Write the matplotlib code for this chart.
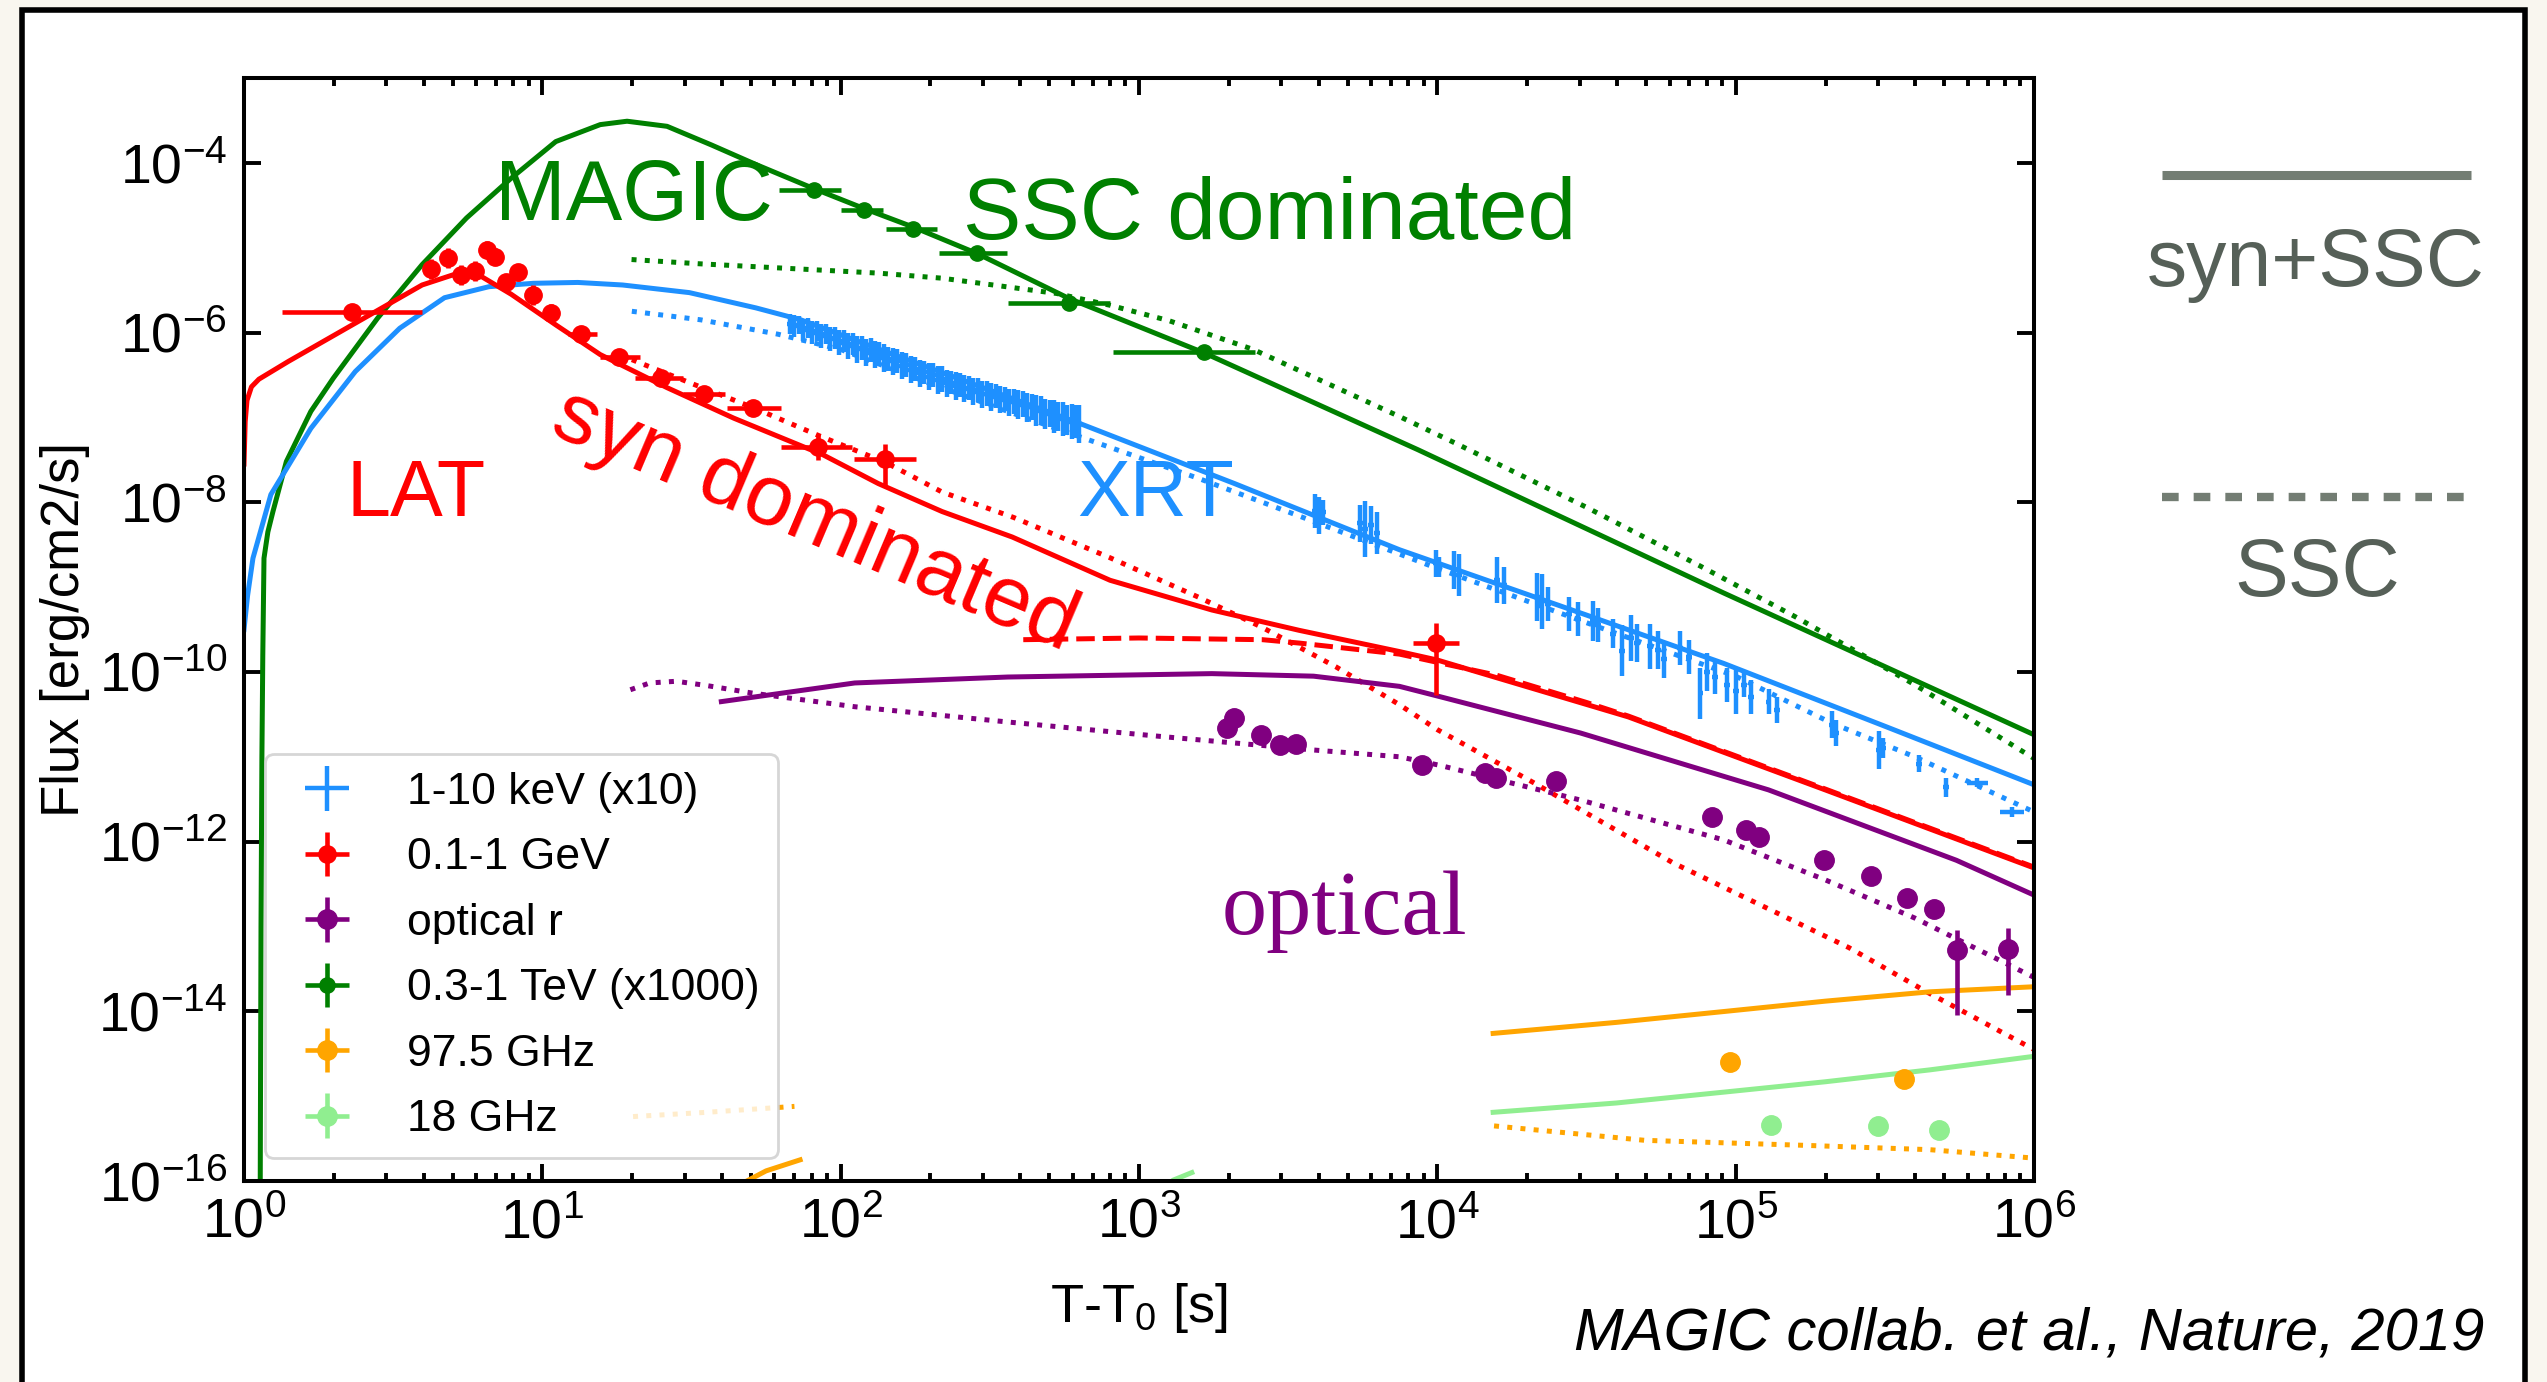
import numpy as np
import matplotlib.pyplot as plt
from matplotlib.lines import Line2D
from matplotlib.patches import Rectangle
from matplotlib.ticker import LogLocator, NullLocator

plt.rcParams['font.family'] = 'Liberation Sans'
plt.rcParams['mathtext.fontset'] = 'custom'
plt.rcParams['mathtext.rm'] = 'Liberation Sans'
plt.rcParams['mathtext.it'] = 'Liberation Sans:italic'
plt.rcParams['mathtext.bf'] = 'Liberation Sans:bold'
plt.rcParams['axes.unicode_minus'] = False

# ---------------- model curves (log10 t, log10 F) ----------------
tev_tot_lt = [0.054, 0.057, 0.060, 0.063, 0.067, 0.080, 0.097, 0.142, 0.224, 0.299, 0.448,
              0.597, 0.746, 0.896, 1.045, 1.194, 1.284, 1.418, 1.567, 1.716, 1.907, 2.079,
              2.245, 2.458, 2.766, 3.218, 3.934, 4.960, 6.0]
tev_tot_lf = [-16.5, -13.0, -11.0, -9.8, -8.66, -8.35, -8.11, -7.52, -6.93, -6.54, -5.83,
              -5.20, -4.65, -4.18, -3.75, -3.55, -3.51, -3.57, -3.79, -4.02, -4.30, -4.54,
              -4.76, -5.07, -5.60, -6.24, -7.38, -9.07, -10.74]
tev_ssc_lt = [1.299, 1.526, 1.80, 2.126, 2.34, 2.575, 2.724, 2.904, 3.10, 3.383, 3.60,
              3.873, 4.058, 4.50, 4.88, 5.20, 5.60, 6.0]
tev_ssc_lf = [-5.14, -5.19, -5.24, -5.30, -5.36, -5.47, -5.54, -5.68, -5.86, -6.20, -6.55,
              -6.99, -7.30, -8.06, -8.75, -9.35, -10.15, -11.02]

xrt_tot_lt = [0.0, 0.012, 0.03, 0.09, 0.224, 0.373, 0.522, 0.672, 0.821, 0.970, 1.119,
              1.269, 1.493, 1.716, 1.866, 2.20, 2.80, 3.32, 3.873, 4.50, 4.96, 5.50, 6.0]
xrt_tot_lf = [-9.5, -9.1, -8.66, -7.91, -7.13, -6.46, -5.95, -5.59, -5.46, -5.42, -5.41,
              -5.44, -5.53, -5.71, -5.85, -6.29, -7.07, -7.78, -8.56, -9.33, -9.90, -10.64, -11.33]
xrt_ssc_lt = [1.30, 1.53, 1.79, 2.0, 2.3, 2.6, 2.9, 3.2, 3.55, 4.0, 4.5, 5.0, 5.32, 5.6, 6.0]
xrt_ssc_lf = [-5.75, -5.85, -6.02, -6.20, -6.60, -6.98, -7.35, -7.72, -8.18, -8.78, -9.42,
              -10.05, -10.60, -11.0, -11.65]

lat_tot_lt = [0.0, 0.004, 0.01, 0.025, 0.05, 0.149, 0.373, 0.597, 0.701, 0.791, 0.896,
              1.045, 1.194, 1.418, 1.642, 1.94, 2.126, 2.34, 2.575, 2.903, 3.244, 3.537,
              3.873, 4.0, 4.64, 5.3, 6.0]
lat_tot_lf = [-7.55, -7.05, -6.80, -6.64, -6.55, -6.34, -5.89, -5.44, -5.32, -5.33, -5.55,
              -5.91, -6.26, -6.65, -7.01, -7.44, -7.78, -8.11, -8.41, -8.92, -9.27, -9.51,
              -9.76, -9.86, -10.53, -11.39, -12.31]
lat_ssc_lt = [2.612, 3.0, 3.414, 3.537, 3.873, 4.2, 4.5, 4.64, 5.3, 6.0]
lat_ssc_lf = [-9.62, -9.60, -9.62, -9.66, -9.79, -10.04, -10.36, -10.52, -11.38, -12.30]
lat_syn_lt = [1.30, 1.50, 1.71, 1.93, 2.15, 2.34, 2.58, 2.90, 3.20, 3.41, 3.66, 3.87,
              4.0, 4.32, 4.79, 5.38, 5.64, 6.0]
lat_syn_lf = [-6.32, -6.60, -6.89, -7.22, -7.53, -7.88, -8.18, -8.65, -9.12, -9.47, -9.94,
              -10.38, -10.68, -11.30, -12.25, -13.25, -13.77, -14.45]

opt_tot_lt = [1.60, 2.047, 2.56, 3.244, 3.585, 3.873, 4.007, 4.48, 5.11, 5.74, 6.0]
opt_tot_lf = [-10.35, -10.13, -10.06, -10.02, -10.05, -10.17, -10.29, -10.72, -11.39, -12.22, -12.63]
opt_ssc_lt = [1.295, 1.36, 1.449, 1.55, 1.705, 2.047, 2.56, 3.072, 3.585, 3.873, 4.007,
              4.48, 4.96, 5.3, 5.6, 6.0]
opt_ssc_lf = [-10.21, -10.13, -10.11, -10.16, -10.25, -10.41, -10.59, -10.76, -10.92, -11.0,
              -11.10, -11.51, -11.98, -12.45, -12.90, -13.60]

r97_tot_a_lt = [1.658, 1.75, 1.864]
r97_tot_a_lf = [-16.05, -15.88, -15.75]
r97_tot_b_lt = [4.187, 4.6, 4.966, 5.3, 5.65, 6.0]
r97_tot_b_lf = [-14.26, -14.13, -14.0, -13.88, -13.77, -13.71]
r97_ssc_a_lt = [1.304, 1.55, 1.845]
r97_ssc_a_lf = [-15.24, -15.19, -15.12]
r97_ssc_b_lt = [4.19, 4.695, 5.24, 5.65, 6.0]
r97_ssc_b_lf = [-15.35, -15.52, -15.58, -15.63, -15.73]
r18_tot_a_lt = [3.08, 3.114, 3.177]
r18_tot_a_lf = [-16.2, -15.99, -15.90]
r18_tot_b_lt = [4.187, 4.6, 4.966, 5.3, 5.65, 6.0]
r18_tot_b_lf = [-15.19, -15.08, -14.95, -14.83, -14.69, -14.53]

# ---------------- data points ----------------
lat_t = [2.3, 4.24, 4.81, 5.33, 5.95, 6.51, 6.92, 7.55, 8.28, 9.33, 10.7,
         13.5, 18.1, 24.9, 34.8, 50.8, 84.2, 141, 9900]
lat_tlo = [1.34, 4.24, 4.81, 5.33, 5.95, 6.51, 6.92, 7.55, 8.28, 9.33, 10.7,
           12.2, 15.6, 20.5, 29.5, 41.6, 62.9, 110.8, 8300]
lat_thi = [3.95, 4.24, 4.81, 5.33, 5.95, 6.51, 6.92, 7.55, 8.28, 9.33, 10.7,
           15.3, 21.2, 29.5, 40.9, 62.9, 108.9, 179.5, 11800]
lat_f = [1.75e-6, 5.6e-6, 7.5e-6, 4.8e-6, 5.3e-6, 9.4e-6, 7.8e-6, 3.9e-6, 5.1e-6, 2.76e-6,
         1.7e-6, 9.7e-7, 5.2e-7, 2.9e-7, 1.9e-7, 1.3e-7, 4.5e-8, 3.25e-8, 2.2e-10]
lat_up = [0.07, 0.12, 0.12, 0.12, 0.12, 0.10, 0.10, 0.10, 0.10, 0.12, 0.10,
          0.06, 0.06, 0.06, 0.06, 0.06, 0.15, 0.18, 0.24]
lat_dn = [0.07, 0.12, 0.12, 0.12, 0.12, 0.10, 0.10, 0.10, 0.10, 0.12, 0.10,
          0.06, 0.06, 0.06, 0.06, 0.06, 0.15, 0.31, 0.62]

magic_t = [81.5, 120, 175, 287, 583, 1650]
magic_tlo = [62, 100, 142, 213, 365, 815]
magic_thi = [100, 139, 210, 362, 800, 2450]
magic_f = [4.83e-5, 2.76e-5, 1.66e-5, 8.6e-6, 2.2e-6, 5.96e-7]
magic_err = [0.05, 0.05, 0.05, 0.05, 0.05, 0.06]

opt_lt = [3.295, 3.320, 3.410, 3.474, 3.526, 3.949, 4.160, 4.198, 4.397, 4.920, 5.035,
          5.077, 5.295, 5.452, 5.573, 5.665, 5.742, 5.913]
opt_lf = [-10.66, -10.54, -10.74, -10.86, -10.85, -11.10, -11.19, -11.25, -11.29, -11.71,
          -11.86, -11.95, -12.22, -12.41, -12.67, -12.79, -13.28, -13.26]
opt_up = [0] * 16 + [0.24, 0.24]
opt_dn = [0] * 16 + [0.76, 0.55]

r97_lt = [4.98, 5.564]
r97_lf = [-14.60, -14.80]
r18_lt = [5.12, 5.476, 5.68]
r18_lf = [-15.34, -15.35, -15.40]

# XRT light curve (log t, log F, half error in dex)
xrt_lt = [1.83, 1.845, 1.86, 1.875, 1.89, 1.905, 1.92, 1.935, 1.95, 1.965, 1.98, 1.995,
          2.01, 2.025, 2.04, 2.055, 2.07, 2.085, 2.10, 2.115, 2.13, 2.145, 2.16, 2.175,
          2.19, 2.205, 2.22, 2.235, 2.25, 2.265, 2.28, 2.295, 2.31, 2.325, 2.34, 2.355,
          2.37, 2.385, 2.40, 2.415, 2.43, 2.445, 2.46, 2.475, 2.49, 2.505, 2.52, 2.535,
          2.55, 2.565, 2.58, 2.595, 2.61, 2.625, 2.64, 2.655, 2.67, 2.685, 2.70, 2.715,
          2.73, 2.745, 2.76, 2.775, 2.79, 2.80,
          3.590, 3.603, 3.618, 3.740, 3.758, 3.777, 3.798, 3.995, 4.006, 4.055, 4.072,
          4.200, 4.222, 4.335, 4.352, 4.370, 4.440, 4.472, 4.522, 4.538, 4.590, 4.620,
          4.650, 4.670, 4.712, 4.738, 4.760, 4.812, 4.842, 4.882, 4.905, 4.932, 4.970,
          5.000, 5.028, 5.050, 5.110, 5.140, 5.322, 5.336, 5.480, 5.495, 5.615, 5.705,
          5.810, 5.925]
xrt_lf = [-5.90, -5.92, -5.91, -5.97, -5.95, -6.00, -5.98, -6.04, -6.02, -6.08, -6.06,
          -6.12, -6.10, -6.16, -6.14, -6.20, -6.18, -6.24, -6.21, -6.26, -6.25, -6.30,
          -6.31, -6.34, -6.34, -6.39, -6.38, -6.44, -6.43, -6.48, -6.47, -6.52, -6.50,
          -6.56, -6.55, -6.60, -6.59, -6.63, -6.62, -6.66, -6.65, -6.70, -6.68, -6.73,
          -6.72, -6.76, -6.75, -6.79, -6.78, -6.82, -6.81, -6.85, -6.84, -6.88, -6.88,
          -6.92, -6.91, -6.96, -6.95, -6.99, -6.99, -7.02, -7.03, -7.05, -7.05, -7.08,
          -8.10, -8.16, -8.12, -8.25, -8.32, -8.27, -8.36, -8.72, -8.76, -8.80, -8.86,
          -8.92, -8.98, -9.12, -9.17, -9.20, -9.32, -9.38, -9.40, -9.45, -9.55, -9.75,
          -9.60, -9.66, -9.70, -9.74, -9.85, -9.72, -9.82, -10.25, -10.00, -10.06, -10.15,
          -10.22, -10.15, -10.30, -10.35, -10.45, -10.62, -10.72, -10.92, -10.90, -11.08,
          -11.36, -11.305, -11.647]
xrt_err = [0.12, 0.13, 0.11, 0.13, 0.12, 0.13, 0.12, 0.14, 0.12, 0.14, 0.13, 0.15,
           0.13, 0.15, 0.13, 0.16, 0.14, 0.16, 0.14, 0.16, 0.14, 0.16, 0.14, 0.16,
           0.14, 0.16, 0.14, 0.16, 0.14, 0.16, 0.14, 0.16, 0.14, 0.16, 0.15, 0.16,
           0.14, 0.16, 0.14, 0.16, 0.14, 0.16, 0.14, 0.16, 0.15, 0.16, 0.14, 0.16,
           0.14, 0.16, 0.15, 0.17, 0.15, 0.17, 0.15, 0.18, 0.16, 0.18, 0.16, 0.19,
           0.17, 0.20, 0.18, 0.21, 0.19, 0.22,
           0.20, 0.22, 0.15, 0.22, 0.33, 0.22, 0.25, 0.16, 0.12, 0.22, 0.25,
           0.27, 0.22, 0.28, 0.32, 0.20, 0.20, 0.20, 0.24, 0.20, 0.17, 0.30,
           0.27, 0.22, 0.27, 0.22, 0.22, 0.20, 0.20, 0.30, 0.22, 0.20, 0.20,
           0.27, 0.15, 0.20, 0.15, 0.15, 0.16, 0.15, 0.22, 0.12, 0.10, 0.11,
           0.05, 0.06]
xrt_dx = [0.01] * 110 + [0.035, 0.040]


def lg(a):
    return 10.0 ** np.asarray(a, dtype=float)


def dex_err(f, up, dn):
    f = np.asarray(f, dtype=float)
    return [f * (1 - 10.0 ** -np.asarray(dn)), f * (10.0 ** np.asarray(up) - 1)]


fig = plt.figure(figsize=(25.47, 13.82), dpi=100, facecolor='#f9f6ef')
fig.add_artist(Rectangle((0.0086, -0.05), 0.9826, 1.0428, transform=fig.transFigure,
                         facecolor='white', edgecolor='black', lw=4, zorder=-10))
ax = fig.add_axes([0.0958, 0.1454, 0.7028, 0.7982])
ax.set_facecolor('white')

lw = 3.6
ax.plot(lg(tev_tot_lt), lg(tev_tot_lf), color='green', lw=lw)
ax.plot(lg(tev_ssc_lt), lg(tev_ssc_lf), color='green', lw=lw, ls=':')
ax.plot(lg(xrt_tot_lt), lg(xrt_tot_lf), color='dodgerblue', lw=lw)
ax.plot(lg(xrt_ssc_lt), lg(xrt_ssc_lf), color='dodgerblue', lw=lw, ls=':')
ax.plot(lg(lat_tot_lt), lg(lat_tot_lf), color='red', lw=lw)
ax.plot(lg(lat_ssc_lt), lg(lat_ssc_lf), color='red', lw=lw, ls='--')
ax.plot(lg(lat_syn_lt), lg(lat_syn_lf), color='red', lw=lw, ls=':')
ax.plot(lg(opt_tot_lt), lg(opt_tot_lf), color='purple', lw=lw)
ax.plot(lg(opt_ssc_lt), lg(opt_ssc_lf), color='purple', lw=lw, ls=':')
for lt_, lf_, st in [(r97_tot_a_lt, r97_tot_a_lf, '-'), (r97_tot_b_lt, r97_tot_b_lf, '-'),
                     (r97_ssc_a_lt, r97_ssc_a_lf, ':'), (r97_ssc_b_lt, r97_ssc_b_lf, ':')]:
    ax.plot(lg(lt_), lg(lf_), color='orange', lw=lw, ls=st)
for lt_, lf_ in [(r18_tot_a_lt, r18_tot_a_lf), (r18_tot_b_lt, r18_tot_b_lf)]:
    ax.plot(lg(lt_), lg(lf_), color='lightgreen', lw=lw)

# data
xt = lg(xrt_lt)
xf = lg(xrt_lf)
xdx = np.asarray(xrt_dx)
h_xrt = ax.errorbar(xt, xf, xerr=[xt * (1 - 10 ** -xdx), xt * (10 ** xdx - 1)],
                    yerr=dex_err(xf, xrt_err, xrt_err), fmt='none',
                    ecolor='dodgerblue', elinewidth=3.2, zorder=3)
lt = np.asarray(lat_t)
h_lat = ax.errorbar(lt, lat_f, xerr=[lt - np.asarray(lat_tlo), np.asarray(lat_thi) - lt],
                    yerr=dex_err(lat_f, lat_up, lat_dn), fmt='o', color='red', ms=12.5,
                    elinewidth=3.3, zorder=4)
ot = lg(opt_lt)
of = lg(opt_lf)
h_opt = ax.errorbar(ot, of, xerr=np.zeros(len(ot)), yerr=dex_err(of, opt_up, opt_dn),
                    fmt='o', color='purple', ms=14, elinewidth=3.3, zorder=4)
mt = np.asarray(magic_t, dtype=float)
h_mag = ax.errorbar(mt, magic_f, xerr=[mt - np.asarray(magic_tlo), np.asarray(magic_thi) - mt],
                    yerr=dex_err(magic_f, magic_err, magic_err), fmt='o', color='green',
                    ms=11, elinewidth=3.3, zorder=4)
h_r97 = ax.errorbar(lg(r97_lt), lg(r97_lf), xerr=np.zeros(2), yerr=np.zeros(2), fmt='o',
                    color='orange', ms=14, elinewidth=3.3, zorder=4)
h_r18 = ax.errorbar(lg(r18_lt), lg(r18_lf), xerr=np.zeros(3), yerr=np.zeros(3), fmt='o',
                    color='lightgreen', ms=14, elinewidth=3.3, zorder=4)

ax.set_xscale('log')
ax.set_yscale('log')
ax.set_xlim(1, 1e6)
ax.set_ylim(1e-16, 1e-3)
ax.set_yticks([10.0 ** k for k in range(-16, -3, 2)])
ax.yaxis.set_minor_locator(NullLocator())
ax.xaxis.set_major_locator(LogLocator(base=10, numticks=10))
ax.xaxis.set_minor_locator(LogLocator(base=10, subs=np.arange(2, 10), numticks=100))
ax.tick_params(which='both', direction='in', top=True, right=True, width=2.8)
ax.tick_params(which='major', length=12, pad=12, labelsize=40)
ax.tick_params(which='minor', length=6)
for s in ax.spines.values():
    s.set_linewidth(2.9)

# axis titles placed where the reference has them
fig.text(0.4472, 0.0434, 'T-T$_0$ [s]', fontsize=39, ha='center', va='baseline')
fig.text(0.0255, 0.5445, 'Flux [erg/cm2/s]', fontsize=38, rotation=90,
         ha='center', va='center')

leg = ax.legend([h_xrt, h_lat, h_opt, h_mag, h_r97, h_r18],
                ['1-10 keV (x10)', '0.1-1 GeV', 'optical r', '0.3-1 TeV (x1000)',
                 '97.5 GHz', '18 GHz'],
                loc='lower left', bbox_to_anchor=(0.0117, 0.0209), borderaxespad=0,
                fontsize=32, labelspacing=0.55, framealpha=0.8, edgecolor='0.8')
leg.get_frame().set_linewidth(2)

# annotations
ax.text(10 ** 0.84, 10 ** -4.67, 'MAGIC', color='green', fontsize=61, zorder=4)
ax.text(10 ** 2.41, 10 ** -4.90, 'SSC dominated', color='green', fontsize=63, zorder=4)
ax.text(10 ** 0.342, 10 ** -8.16, 'LAT', color='red', fontsize=57, zorder=4)
ax.text(10 ** 2.792, 10 ** -8.16, 'XRT', color='dodgerblue', fontsize=57, zorder=4)
ax.text(10 ** 1.911, 10 ** -8.227, 'syn dominated', color='red', fontsize=62,
        rotation=-23, rotation_mode='anchor', ha='center', va='center', zorder=4)
ax.text(10 ** 3.276, 10 ** -13.09, 'optical', color='purple', fontsize=65,
        family='Liberation Serif', zorder=4)

# side key and citation
fig.add_artist(Line2D([0.8487, 0.9700], [0.8731, 0.8731], transform=fig.transFigure,
                      color='#737d73', lw=6.5, solid_capstyle='butt'))
fig.add_artist(Line2D([0.8487, 0.9685], [0.6407, 0.6407], transform=fig.transFigure,
                      color='#737d73', lw=6.0, dashes=(2.0, 1.8), dash_capstyle='butt'))
fig.text(0.9093, 0.7931, 'syn+SSC', color='#566058', fontsize=58, ha='center', va='baseline')
fig.text(0.9096, 0.5684, 'SSC', color='#566058', fontsize=58, ha='center', va='baseline')
fig.text(0.9753, 0.0232, 'MAGIC collab. et al., Nature, 2019', fontsize=43,
         style='italic', ha='right', va='baseline')

fig.savefig('out.png', dpi=100, facecolor=fig.get_facecolor())
